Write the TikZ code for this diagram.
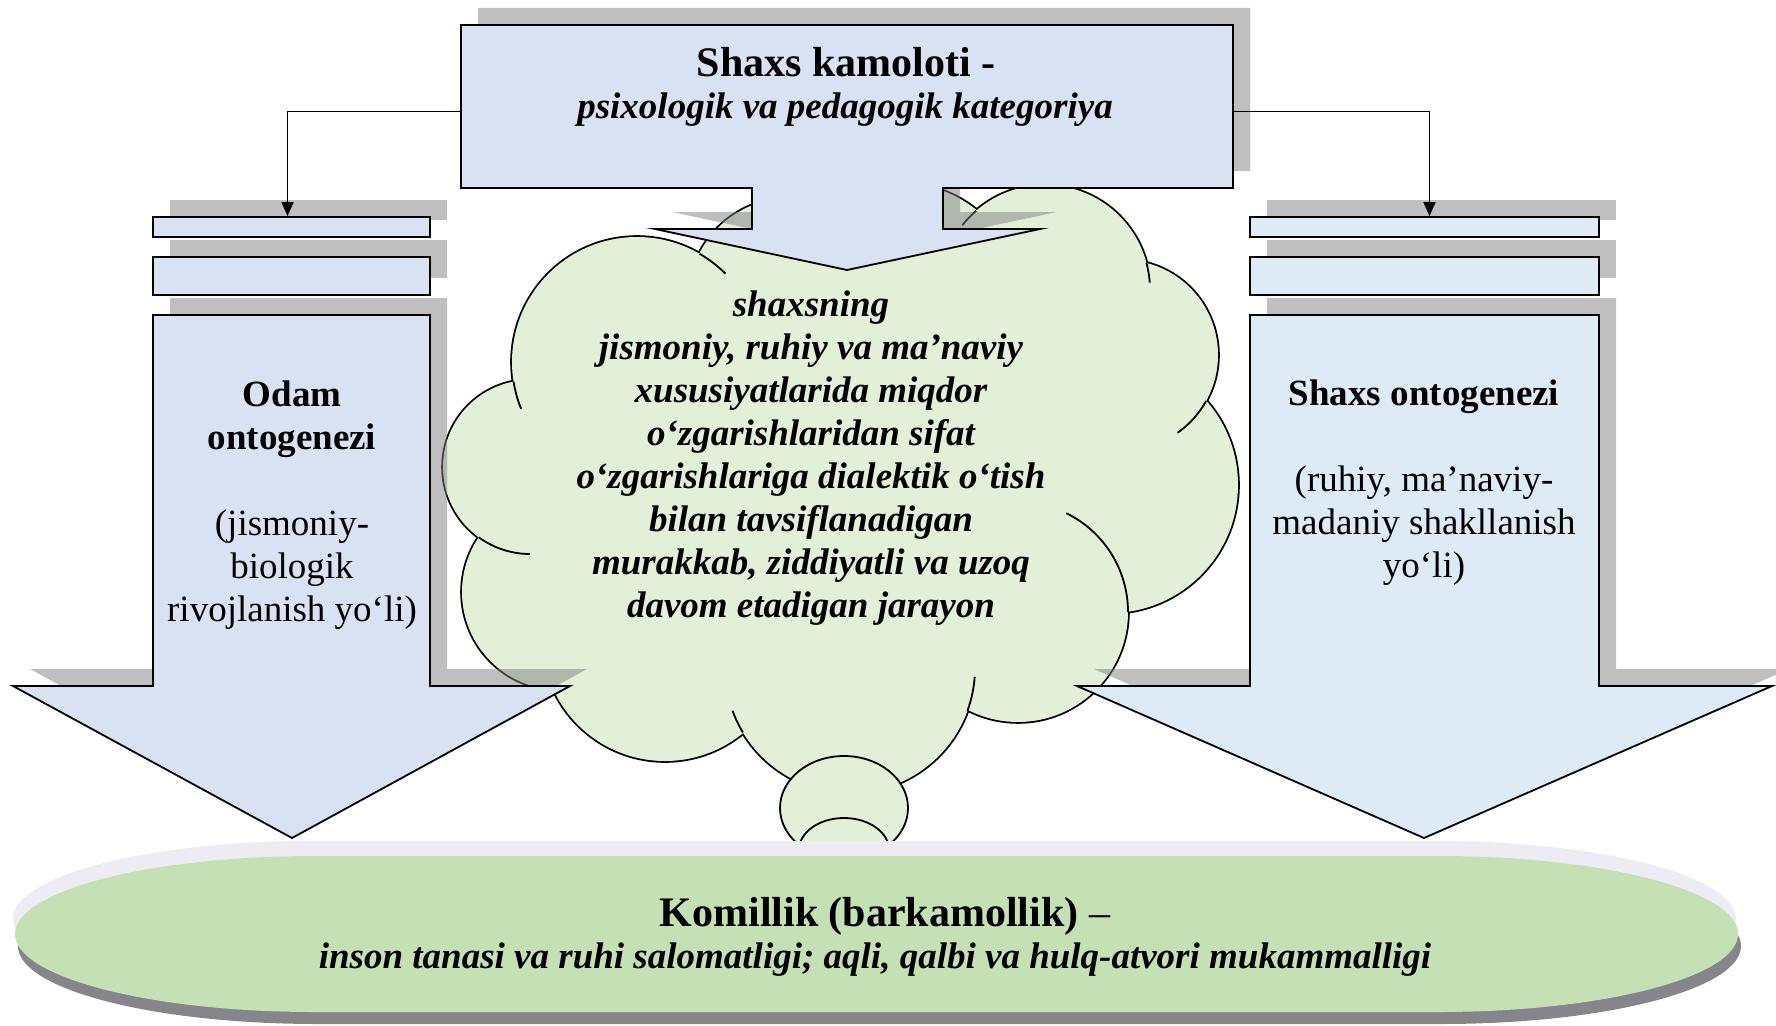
\documentclass[tikz,border=0pt]{standalone}
\usepackage{fontspec}
\setmainfont{Liberation Serif}
\usetikzlibrary{arrows.meta}
\definecolor{boxblue}{RGB}{217,226,243}
\definecolor{paleblue}{RGB}{222,235,247}
\definecolor{cloudgreen}{RGB}{226,240,217}
\definecolor{pillgreen}{RGB}{197,224,180}
\definecolor{pilllight}{RGB}{237,235,244}
\definecolor{pilldark}{RGB}{135,133,140}

\begin{document}
\begin{tikzpicture}[x=1pt,y=1pt,
	outline/.style={draw=black,line width=1.8pt},
	dropshadow/.style={fill=black!50,fill opacity=0.5},
	bar/.style={outline,inner sep=0pt,minimum height=20pt},
	link/.style={line width=1.8pt,-{Triangle[length=14pt,width=12pt]}},
	bodytext/.style={font=\fontsize{37}{43}\selectfont,align=center,anchor=base,inner sep=0pt},
	bolditalic/.style={bodytext,font=\fontsize{37}{43}\selectfont\bfseries\itshape},
	headtext/.style={font=\fontsize{42}{48}\selectfont\bfseries,anchor=base,inner sep=0pt}]
	\useasboundingbox (0,0) rectangle (1776,-1025);

	% cloud: thick outlines first, the fill then hides all but the outer edge
	\foreach \x/\y/\r in {637/362/125,790/300/102,900/305/122,1045/290/105,1123/355/95,1110/485/128,1018/612/110,850/668/125,665/638/123,560/592/98,530/467/87}
		\draw[line width=3.6pt] (\x,-\y) circle[radius=\r];
	\fill[cloudgreen] (840,-480) ellipse[x radius=300,y radius=250];
	\foreach \x/\y/\r in {637/362/125,790/300/102,900/305/122,1045/290/105,1123/355/95,1110/485/128,1018/612/110,850/668/125,665/638/123,560/592/98,530/467/87}
		\fill[cloudgreen] (\x,-\y) circle[radius=\r];
	\foreach \x/\y/\r/\a/\b in {637/362/125/189/202,637/362/125/60/45,530/467/87/234/270,850/668/125/211/200,850/668/125/-20/-4,1018/612/110/0/64,1123/355/95/-29/-55,1045/290/105/15/4,1045/290/105/131/142}
		\draw[outline] (\x,-\y) ++(\a:\r) arc[start angle=\a,end angle=\b,radius=\r];
	\draw[outline,fill=cloudgreen] (844,-808) ellipse[x radius=64,y radius=52];
	\draw[outline,fill=cloudgreen] (844,-850) ellipse[x radius=45,y radius=32];

	% shadows
	\begin{scope}[shift={(17,17)}]
		\fill[dropshadow] (153,-217) rectangle (430,-237);
		\fill[dropshadow] (153,-257) rectangle (430,-295);
		\fill[dropshadow] (153,-315) -- (430,-315) -- (430,-686) -- (570,-686) -- (292,-838) -- (13,-686) -- (153,-686) -- cycle;
		\fill[dropshadow] (1250,-217) rectangle (1599,-237);
		\fill[dropshadow] (1250,-257) rectangle (1599,-295);
		\fill[dropshadow] (1250,-315) -- (1599,-315) -- (1599,-686) -- (1772,-686) -- (1424,-838) -- (1077,-686) -- (1250,-686) -- cycle;
		\fill[dropshadow] (461,-25) -- (1233,-25) -- (1233,-188) -- (943,-188) -- (943,-229) -- (1040,-229) -- (847,-270) -- (655,-229) -- (752,-229) -- (752,-188) -- (461,-188) -- cycle;
	\end{scope}

	% left column
	\node[bar,fill=boxblue,minimum width=277pt] (lbar1) at (291.5,-227) {};
	\node[bar,fill=boxblue,minimum width=277pt,minimum height=38pt] (lbar2) at (291.5,-276) {};
	\draw[outline,fill=boxblue] (153,-315) -- (430,-315) -- (430,-686) -- (570,-686) -- (292,-838) -- (13,-686) -- (153,-686) -- cycle;

	% right column
	\node[bar,fill=paleblue,minimum width=349pt] (rbar1) at (1424.5,-227) {};
	\node[bar,fill=paleblue,minimum width=349pt,minimum height=38pt] (rbar2) at (1424.5,-276) {};
	\draw[outline,fill=paleblue] (1250,-315) -- (1599,-315) -- (1599,-686) -- (1772,-686) -- (1424,-838) -- (1077,-686) -- (1250,-686) -- cycle;

	% top box
	\draw[outline,fill=boxblue] (461,-25) -- (1233,-25) -- (1233,-188) -- (943,-188) -- (943,-229) -- (1040,-229) -- (847,-270) -- (655,-229) -- (752,-229) -- (752,-188) -- (461,-188) -- cycle;
	\node[inner sep=0pt,minimum width=772pt,minimum height=163pt] (topbox) at (847,-106.5) {};

	\draw[link] ([yshift=-5pt]topbox.west) -| ([xshift=-4pt]lbar1.north);
	\draw[link] ([yshift=-5pt]topbox.east) -| ([xshift=5pt]rbar1.north);

	% bottom
	\foreach \dx/\dy/\c in {-2/15/pilllight,3/-12/pilldark,0/0/pillgreen}
		\fill[\c,shift={(\dx,\dy)}] (315,-856) -- (1438,-856) arc[start angle=90,end angle=-90,x radius=300,y radius=78] -- (315,-1012) arc[start angle=270,end angle=90,x radius=300,y radius=78] -- cycle;

	% texts (base of a multi-line node is its last line)
	\node[headtext] (title) at (846,-76) {Shaxs kamoloti -};
	\node[bolditalic] (titlesub) at (845,-118) {psixologik va pedagogik kategoriya};
	\node[bodytext] (odam) at (292,-621) {\textbf{Odam}\\\textbf{ontogenezi}\\[43pt](jismoniy-\\biologik\\rivojlanish yo‘li)};
	\node[bodytext] (shaxs) at (1424,-577) {\textbf{Shaxs ontogenezi}\\[43pt](ruhiy, ma’naviy-\\madaniy shakllanish\\yo‘li)};
	\node[bolditalic] (process) at (811,-617) {shaxsning\\jismoniy, ruhiy va ma’naviy\\xususiyatlarida miqdor\\o‘zgarishlaridan sifat\\o‘zgarishlariga dialektik o‘tish\\bilan tavsiflanadigan\\murakkab, ziddiyatli va uzoq\\davom etadigan jarayon};
	\node[headtext] (goal) at (885,-926) {Komillik (barkamollik) \textmd{–}};
	\node[bolditalic] (goalsub) at (875,-968) {inson tanasi va ruhi salomatligi; aqli, qalbi va hulq-atvori mukammalligi};
\end{tikzpicture}
\end{document}
